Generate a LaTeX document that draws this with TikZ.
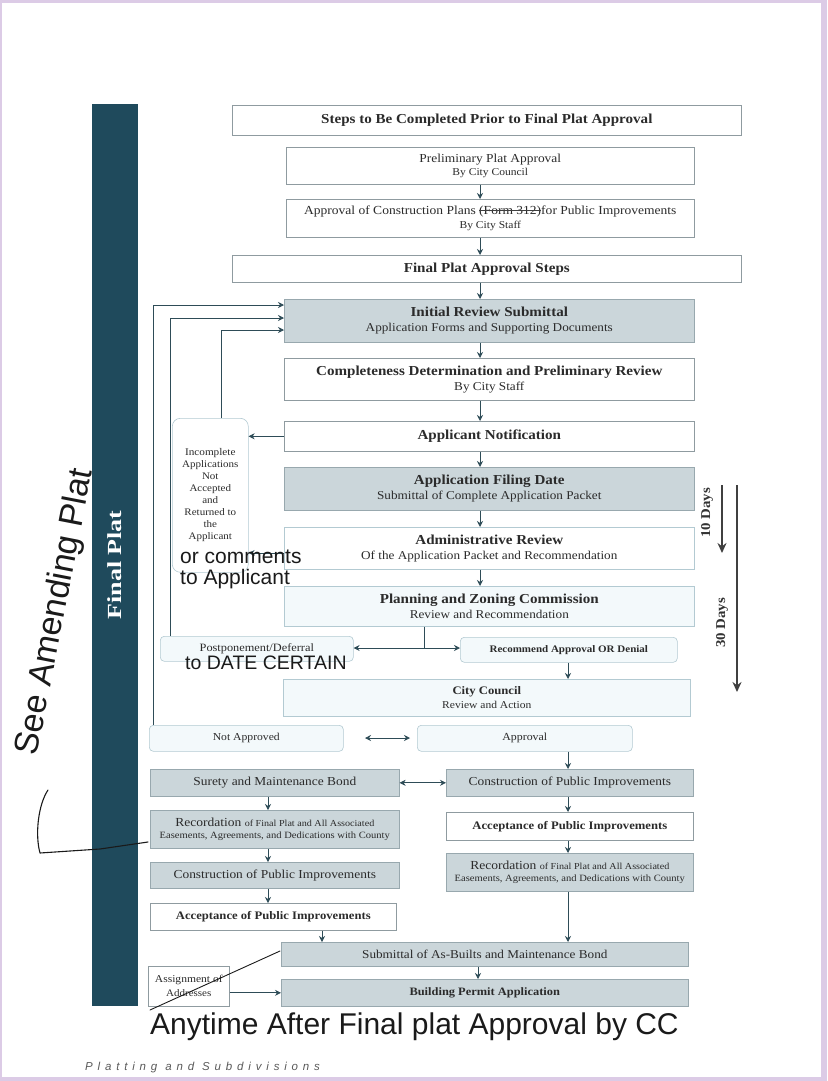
\documentclass[tikz,border=0pt]{standalone}
\usepackage{fontspec}
\setmainfont[FakeStretch=1.1]{Liberation Serif}
\newfontfamily\barfont[FakeStretch=1.3]{Liberation Serif}
\newfontfamily\hand{Liberation Sans}
\newfontfamily\footfont[LetterSpace=42]{Liberation Sans}
\usetikzlibrary{arrows.meta,calc}
\definecolor{barc}{HTML}{1F4A5C}
\definecolor{gfill}{HTML}{CBD6DA}
\definecolor{gline}{HTML}{98A8AE}
\definecolor{lfill}{HTML}{F3F9FB}
\definecolor{lline}{HTML}{B3CAD2}
\definecolor{wline}{HTML}{8F9BA0}
\definecolor{arrc}{HTML}{2E4C57}
\definecolor{txt}{HTML}{2B2B2B}
\definecolor{framec}{HTML}{DCCBE6}
\definecolor{ink}{HTML}{1A1A1A}
\newcommand\titfont{\fontsize{13.7}{16}\selectfont\bfseries}
\newcommand\subfont{\fontsize{12}{16.5}\selectfont\mdseries}
\newsavebox\scribbox
\newcommand\scrib[1]{\sbox\scribbox{#1}\usebox\scribbox\hskip-\wd\scribbox\raisebox{0.28em}{\textcolor{black!75}{\rule{\wd\scribbox}{1.8pt}}}}
\newcommand\bx[7]{\pgfmathsetmacro\bw{#4-#2}\pgfmathsetmacro\bh{#5-#3}%
  \node[#6, minimum width=\bw pt, minimum height=\bh pt, anchor=north west, inner sep=0pt, align=center] (#1) at (#2,#3) {#7};}
\tikzset{
  wbox/.style={draw=wline, fill=white, line width=0.6pt, text=txt},
  gbox/.style={draw=gline, fill=gfill, line width=0.6pt, text=txt},
  lbox/.style={draw=lline, fill=lfill, line width=0.6pt, text=txt},
  rbox/.style={lbox, rounded corners=4pt},
  arr/.style={draw=arrc, line width=0.8pt, -{Stealth[length=6pt,width=6pt]}},
  darr/.style={draw=arrc, line width=0.8pt, {Stealth[length=6pt,width=6pt]}-{Stealth[length=6pt,width=6pt]}},
  dayarr/.style={draw=black!75, line width=1.8pt, -{Stealth[length=10pt,width=9pt]}},
  pen/.style={draw=ink, line width=1.1pt, line cap=round, line join=round},
  hw/.style={text=ink, inner sep=0pt}
}
\begin{document}
\begin{tikzpicture}[x=1pt,y=-1pt]
\useasboundingbox (0,0) rectangle (827,1081);
% frame
\fill[framec] (0,0) rectangle (827,3);
\fill[framec] (821,0) rectangle (827,1081);
\fill[framec] (0,1077) rectangle (827,1081);
\fill[framec] (0,0) rectangle (1.5,1081);
% side bar
\bx{bar}{92}{104}{138}{1006}{fill=barc}{}
\node[rotate=90, text=white, font=\barfont\fontsize{20}{22}\selectfont\bfseries] (bartxt) at (115,565) {Final Plat};
% boxes
\bx{t1}{232}{105}{741}{135}{wbox}{\titfont Steps to Be Completed Prior to Final Plat Approval}
\bx{pre}{286}{147}{694}{184}{wbox}{\fontsize{12.2}{14}\selectfont Preliminary Plat Approval\\[1.5pt] \fontsize{10.5}{14.5}\selectfont By City Council}
\bx{cons}{286}{199}{694}{237}{wbox}{\fontsize{12.3}{14}\selectfont Approval of Construction Plans \scrib{(Form 312)}for Public Improvements\\[1.5pt] \fontsize{10.5}{14.5}\selectfont By City Staff}
\bx{fpa}{232}{255}{741}{282}{wbox}{\titfont Final Plat Approval Steps}
\bx{irs}{284}{299}{694}{342}{gbox}{\titfont Initial Review Submittal\\[3pt] \subfont Application Forms and Supporting Documents}
\bx{cd}{284}{358}{694}{400}{wbox}{\titfont Completeness Determination and Preliminary Review\\[3pt] \subfont By City Staff}
\bx{an}{284}{421}{694}{451}{wbox}{\titfont Applicant Notification}
\bx{afd}{284}{467}{694}{510}{gbox}{\titfont Application Filing Date\\[3pt] \subfont Submittal of Complete Application Packet}
\bx{ar}{284}{527}{694}{569}{wbox,draw=lline}{\titfont Administrative Review\\[3pt] \subfont Of the Application Packet and Recommendation}
\bx{pz}{284}{586}{694}{626}{lbox}{\titfont Planning and Zoning Commission\\[3pt] \subfont Review and Recommendation}
\bx{pd}{160}{636}{353}{661}{rbox}{\fontsize{11.2}{12}\selectfont Postponement/Deferral}
\bx{rad}{460}{637}{677}{662}{rbox}{\fontsize{10}{12}\selectfont\bfseries Recommend Approval OR Denial}
\bx{cc}{283}{679}{690}{716}{lbox}{\fontsize{11.5}{14}\selectfont\bfseries City Council\\[2pt] \fontsize{10.5}{14.5}\selectfont\mdseries Review and Action}
\bx{na}{149}{725}{343}{751}{rbox}{\fontsize{10.6}{12}\selectfont Not Approved}
\bx{ap}{417}{725}{632}{751}{rbox}{\fontsize{10.8}{12}\selectfont Approval}
\bx{smb}{150}{769}{399}{796}{gbox}{\fontsize{12.2}{14}\selectfont Surety and Maintenance Bond}
\bx{cpr}{446}{769}{693}{796}{gbox}{\fontsize{12.2}{14}\selectfont Construction of Public Improvements}
\bx{recl}{150}{810}{399}{848}{gbox}{\fontsize{12.3}{14}\selectfont Recordation {\fontsize{9.2}{10}\selectfont of Final Plat and All Associated}\\[0.5pt] \fontsize{9.6}{13}\selectfont Easements, Agreements, and Dedications with County}
\bx{apr}{446}{812}{693}{840}{wbox}{\fontsize{11.5}{13}\selectfont\bfseries Acceptance of Public Improvements}
\bx{cpl}{150}{862}{399}{888}{gbox}{\fontsize{12.2}{14}\selectfont Construction of Public Improvements}
\bx{recr}{446}{853}{693}{891}{gbox}{\fontsize{12.3}{14}\selectfont Recordation {\fontsize{9.2}{10}\selectfont of Final Plat and All Associated}\\[0.5pt] \fontsize{9.6}{13}\selectfont Easements, Agreements, and Dedications with County}
\bx{apl}{150}{903}{396}{930}{wbox}{\fontsize{11.5}{13}\selectfont\bfseries Acceptance of Public Improvements}
\bx{sab}{281}{942}{688}{966}{gbox}{\fontsize{12}{13}\selectfont Submittal of As-Builts and Maintenance Bond}
\bx{bpa}{281}{979}{688}{1006}{gbox}{\fontsize{11.3}{13}\selectfont\bfseries Building Permit Application}
\bx{aoa}{148}{966}{229}{1006}{wbox}{\fontsize{10.5}{14}\selectfont Assignment of\\[2pt] Addresses}
\bx{inc}{172}{418}{248}{572}{wbox,rounded corners=8pt,draw=lline}{\fontsize{10.2}{13}\selectfont Incomplete\\ Applications\\ Not\\ Accepted\\ and\\ Returned to\\ the\\ Applicant}
% column coordinates
\coordinate (cx) at (480,0);
\coordinate (rx) at (568,0);
\coordinate (lx) at (268,0);
\coordinate (ax) at (322,0);
\coordinate (bx) at (478,0);
% main column arrows
\draw[arr] (pre.south -| cx) -- (cons.north -| cx);
\draw[arr] (cons.south -| cx) -- (fpa.north -| cx);
\draw[arr] (fpa.south -| cx) -- (irs.north -| cx);
\draw[arr] (irs.south -| cx) -- (cd.north -| cx);
\draw[arr] (cd.south -| cx) -- (an.north -| cx);
\draw[arr] (an.south -| cx) -- (afd.north -| cx);
\draw[arr] (afd.south -| cx) -- (ar.north -| cx);
\draw[arr] (ar.south -| cx) -- (pz.north -| cx);
% split from P&Z
\coordinate (pzs) at (424,648);
\draw[draw=arrc, line width=0.8pt] (pz.south -| pzs) -- (pzs);
\draw[arr] (pzs) -- (pd.east |- pzs);
\draw[arr] (pzs) -- (rad.west |- pzs);
\draw[arr] (rad.south -| rx) -- (cc.north -| rx);
% approved / not approved
\coordinate (nae) at (365,738);
\coordinate (apw) at (410,738);
\draw[darr] (nae) -- (apw);
\draw[arr] (ap.south -| rx) -- (cpr.north -| rx);
\draw[darr] (smb.east) -- (cpr.west);
% left column
\draw[arr] (smb.south -| lx) -- (recl.north -| lx);
\draw[arr] (recl.south -| lx) -- (cpl.north -| lx);
\draw[arr] (cpl.south -| lx) -- (apl.north -| lx);
\draw[arr] (apl.south -| ax) -- (sab.north -| ax);
% right column
\draw[arr] (cpr.south -| rx) -- (apr.north -| rx);
\draw[arr] (apr.south -| rx) -- (recr.north -| rx);
\draw[arr] (recr.south -| rx) -- (sab.north -| rx);
\draw[arr] (sab.south -| bx) -- (bpa.north -| bx);
\draw[arr] (aoa.east |- bpa.west) -- (bpa.west);
% feedback loops
\coordinate (l1) at (153,305);
\coordinate (l2) at (170,318);
\coordinate (l3) at (221,330);
\draw[arr] (na.north -| l1) -- (l1) -- (l1 -| irs.west);
\draw[arr] (pd.north -| l2) -- (l2) -- (l2 -| irs.west);
\draw[arr] (inc.north -| l3) -- (l3) -- (l3 -| irs.west);
\draw[arr] (an.west) -- (an.west -| inc.east);
\coordinate (ay) at (0,553);
\draw[arr] (ar.west |- ay) -- (inc.east |- ay);
% day arrows
\coordinate (d10a) at (722,485);
\coordinate (d10b) at (722,553);
\coordinate (d30a) at (737,485);
\coordinate (d30b) at (737,692);
\draw[dayarr] (d10a) -- (d10b);
\draw[dayarr] (d30a) -- (d30b);
\node[rotate=90, text=black!80, font=\fontsize{13.5}{15}\selectfont\bfseries] (l10) at (707,513) {10 Days};
\node[rotate=90, text=black!80, font=\fontsize{13.5}{15}\selectfont\bfseries] (l30) at (722,623) {30 Days};
% handwritten notes
\node[hw, rotate=79, font=\hand\fontsize{34}{36}\selectfont] (see) at (56,612) {See Amending Plat};
\draw[pen] (48,790) .. controls (38,805) and (35,835) .. (40,853) -- (100,849) -- (148,842);
\node[hw, anchor=north west, align=left, font=\hand\fontsize{21}{21}\selectfont] (orc) at (180,550) {or comments\\to Applicant};
\node[hw, anchor=west, font=\hand\fontsize{19.5}{20}\selectfont] (tdc) at (185,663) {to DATE CERTAIN};
\draw[pen, line width=0.9pt] (150,1010) -- (280,951);
\node[hw, anchor=west, font=\hand\fontsize{30}{32}\selectfont] (any) at (150,1027) {Anytime After Final plat Approval by CC};
% footer
\node[anchor=west, inner sep=0pt, text=black!65, font=\footfont\itshape\fontsize{11.5}{13}\selectfont] (foot) at (85,1068) {Platting and Subdivisions};
\end{tikzpicture}
\end{document}
